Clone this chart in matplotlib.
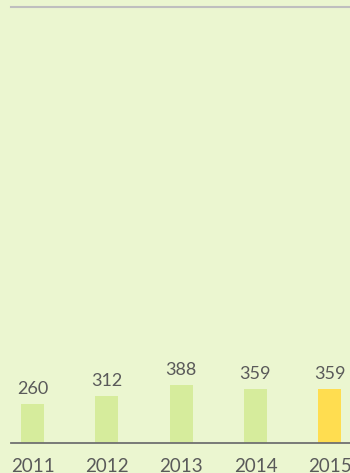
import matplotlib.pyplot as plt

years = ['2011', '2012', '2013', '2014', '2015']
values = [260, 312, 388, 359, 359]
bar_colors = ['#D6EC9C', '#D6EC9C', '#D6EC9C', '#D6EC9C', '#FFDD50']

bg = '#EBF6D0'
W, H = 350, 473
fig = plt.figure(figsize=(W / 100, H / 100), dpi=100, facecolor=bg)
ax = fig.add_axes([11 / W, 30 / H, 1 - 11 / W, 436 / H], facecolor=bg)

x = range(len(years))
ax.bar(x, values, width=0.31, color=bar_colors)
for xi, v in zip(x, values):
    ax.text(xi, v + 45, str(v), ha='center', va='bottom',
            fontsize=13, color='#5A5A5A', family='Lato')

ax.set_xlim(-0.29, 4.273)
ax.set_ylim(0, 2900)
ax.set_yticks([])
ax.set_xticks(list(x))
ax.set_xticklabels(years, fontsize=13.5, color='#5A5A5A', family='Lato')
ax.tick_params(axis='x', length=0, pad=11)

for side in ['left', 'right']:
    ax.spines[side].set_visible(False)
ax.spines['bottom'].set_color('#707070')
ax.spines['bottom'].set_linewidth(1.3)
ax.spines['top'].set_color('#BFBFBF')
ax.spines['top'].set_linewidth(1.5)

fig.savefig('out.png', dpi=100, facecolor=bg)
